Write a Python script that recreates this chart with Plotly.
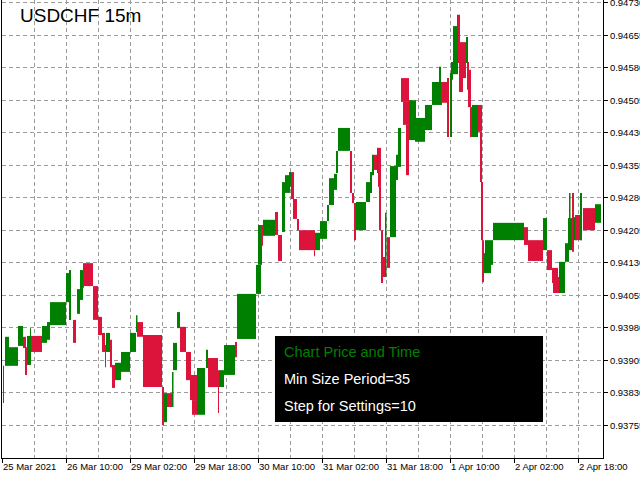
import plotly.graph_objects as go

# ---- data (bar index = 15-minute bars from the first visible bar) ----
box_start = [1, 3, 7, 16, 21, 23, 25, 28, 29, 40, 45, 48, 64, 67, 71, 75, 78, 81, 82, 91,
             96, 100, 103, 104, 108, 110, 113, 119, 128, 134, 135, 141, 160, 162, 165, 170, 171, 175, 178, 184,
             188, 190, 195, 204, 206, 216, 217, 222, 233, 235, 254, 256, 259, 261, 273, 276, 280, 283, 287, 289,
             291, 295, 297, 312, 313, 318, 325, 327, 332, 334, 336, 348, 350, 352, 354, 364, 368, 370, 372, 375,
             376, 377, 379, 381, 383, 385, 388, 394, 396, 399, 401, 404, 407, 413, 423, 430, 437, 439, 445, 448,
             449, 451, 455, 456, 457, 461, 464, 465, 466, 468, 470, 476, 478, 479, 480, 482, 483, 491, 522, 526,
             541, 545, 550, 551, 557, 563, 566, 567, 570, 571, 573, 578, 581, 593]
box_length = [1, 4, 9, 5, 3, 2, 4, 1, 11, 5, 3, 16, 5, 2, 3, 3, 3, 1, 9, 5,
              4, 3, 1, 4, 2, 3, 6, 9, 6, 1.5, 6, 19, 2, 3, 5, 1.5, 4, 3, 6, 5,
              7, 5, 8, 2, 10, 1, 5, 11, 2, 19, 5, 4, 2, 12, 3, 4, 3, 5, 2, 3,
              4, 2, 16, 1, 5, 7, 2, 5, 3, 2, 12, 2, 2, 2, 10, 4, 2, 2, 3, 1,
              3, 2, 2, 2, 1.5, 3, 6, 2, 3, 8, 6, 3, 7, 10, 7, 10, 2, 7, 2, 2,
              2, 5, 1, 2, 4, 3, 2, 2, 3, 3, 6, 4, 2, 2, 2, 7, 8, 31, 4, 15,
              4, 5, 6, 6, 6, 4, 4, 1.5, 2, 4, 7, 2, 12, 6]
box_open = [0.93806, 0.93892, 0.93892, 0.93938, 0.93959, 0.93935, 0.93894, 0.93922, 0.93961, 0.93945,
            0.93952, 0.93986, 0.94039, 0.93998, 0.93998, 0.94012, 0.94044, 0.94129, 0.94129, 0.94076,
            0.94005, 0.93968, 0.93940, 0.93924, 0.93952, 0.93894, 0.93859, 0.93878, 0.93924, 0.93970,
            0.93993, 0.93963, 0.93843, 0.93762, 0.93829, 0.93797, 0.93882, 0.93979, 0.93982, 0.93924,
            0.93871, 0.93813, 0.93779, 0.93887, 0.93910, 0.93882, 0.93843, 0.93871, 0.93947, 0.93954,
            0.94058, 0.94125, 0.94217, 0.94192, 0.94247, 0.94194, 0.94201, 0.94291, 0.94305, 0.94339,
            0.94277, 0.94231, 0.94205, 0.94159, 0.94159, 0.94185, 0.94226, 0.94263, 0.94298, 0.94337,
            0.94388, 0.94388, 0.94291, 0.94268, 0.94205, 0.94270, 0.94291, 0.94332, 0.94379, 0.94337,
            0.94395, 0.94305, 0.94205, 0.94143, 0.94097, 0.94189, 0.94189, 0.94321, 0.94351, 0.94556,
            0.94501, 0.94448, 0.94413, 0.94409, 0.94436, 0.94494, 0.94545, 0.94547, 0.94556, 0.94420,
            0.94552, 0.94565, 0.94674, 0.94702, 0.94639, 0.94639, 0.94591, 0.94593, 0.94575, 0.94489,
            0.94420, 0.94494, 0.94432, 0.94316, 0.94182, 0.94106, 0.94125, 0.94182, 0.94212, 0.94182,
            0.94159, 0.94159, 0.94118, 0.94097, 0.94060, 0.94132, 0.94159, 0.94233, 0.94291, 0.94182,
            0.94240, 0.94182, 0.94256, 0.94222]
box_close = [0.93892, 0.93959, 0.93935, 0.93984, 0.93933, 0.93871, 0.93961, 0.93979, 0.93924, 0.93984,
             0.93993, 0.94039, 0.94106, 0.94113, 0.93945, 0.94069, 0.94113, 0.94072, 0.94076, 0.93998,
             0.93963, 0.93924, 0.93889, 0.93968, 0.93889, 0.93841, 0.93899, 0.93924, 0.93968, 0.94009,
             0.93959, 0.93843, 0.93755, 0.93829, 0.93797, 0.93878, 0.93945, 0.94016, 0.93924, 0.93859,
             0.93813, 0.93779, 0.93887, 0.93929, 0.93843, 0.93783, 0.93882, 0.93940, 0.93912, 0.94058,
             0.94125, 0.94217, 0.94169, 0.94229, 0.94194, 0.94134, 0.94316, 0.94332, 0.94339, 0.94277,
             0.94231, 0.94205, 0.94159, 0.94145, 0.94199, 0.94226, 0.94263, 0.94325, 0.94335, 0.94388,
             0.94441, 0.94291, 0.94268, 0.94182, 0.94270, 0.94316, 0.94339, 0.94379, 0.94344, 0.94395,
             0.94305, 0.94205, 0.94083, 0.94097, 0.94245, 0.94118, 0.94353, 0.94379, 0.94441, 0.94501,
             0.94448, 0.94332, 0.94505, 0.94464, 0.94494, 0.94547, 0.94582, 0.94499, 0.94420, 0.94568,
             0.94593, 0.94676, 0.94702, 0.94591, 0.94524, 0.94556, 0.94651, 0.94529, 0.94489, 0.94420,
             0.94494, 0.94432, 0.94316, 0.94182, 0.94085, 0.94152, 0.94182, 0.94222, 0.94171, 0.94134,
             0.94233, 0.94113, 0.94083, 0.94060, 0.94132, 0.94175, 0.94233, 0.94291, 0.94155, 0.94235,
             0.94182, 0.94291, 0.94205, 0.94265]

price_ticks = [0.93755, 0.93830, 0.93905, 0.93980, 0.94055, 0.94130, 0.94205,
               0.94280, 0.94355, 0.94430, 0.94505, 0.94580, 0.94655, 0.94730]
price_tick_text = ["0.93755", "0.93830", "0.93905", "0.93980", "0.94055", "0.94130", "0.94205",
                   "0.94280", "0.94355", "0.94430", "0.94505", "0.94580", "0.94655", "0.94730"]
time_tick_pos = [0, 64, 128, 192, 256, 320, 384, 448, 512, 576]
time_tick_text = ["25 Mar 2021", "26 Mar 10:00", "29 Mar 02:00", "29 Mar 18:00", "30 Mar 10:00",
                  "31 Mar 02:00", "31 Mar 18:00", "1 Apr 10:00", "2 Apr 02:00", "2 Apr 18:00"]
symbol_title = "USDCHF 15m"
info_lines = ["Chart Price and Time", "Min Size Period=35", "Step for Settings=10"]

UP = "#008000"
DOWN = "#DC143C"
GRID = "#9c9c9c"
FONT = "Liberation Sans, Arial, sans-serif"

centers = [s + w / 2 for s, w in zip(box_start, box_length)]
bases = [min(o, c) for o, c in zip(box_open, box_close)]
heights = [abs(c - o) for o, c in zip(box_open, box_close)]
colors = [UP if c >= o else DOWN for o, c in zip(box_open, box_close)]

fig = go.Figure(go.Bar(
    x=centers, y=heights, base=bases, width=box_length,
    marker=dict(color=colors, line=dict(width=0)),
    hoverinfo="skip", showlegend=False,
))

fig.update_layout(
    width=640, height=480, autosize=False,
    margin=dict(l=2, r=37, t=0, b=22, pad=0),
    plot_bgcolor="white", paper_bgcolor="white",
    font=dict(family=FONT, size=10, color="black"),
    xaxis=dict(
        range=[0, 601], tickmode="array", tickvals=time_tick_pos, ticktext=time_tick_text,
        ticks="outside", ticklen=4, tickcolor="black", ticklabelposition="outside right",
        ticklabeloverflow="allow", tickangle=0, automargin=False,
        tickfont=dict(size=9.5),
        showgrid=True, gridcolor=GRID, griddash="4px,3px", gridwidth=1,
        minor=dict(dtick=32, tick0=0, showgrid=True, gridcolor=GRID, griddash="4px,3px", ticks=""),
        showline=True, linecolor="black", linewidth=1, zeroline=False, fixedrange=True,
    ),
    yaxis=dict(
        range=[0.936793, 0.947362], side="right", tickmode="array", tickvals=price_ticks,
        ticktext=price_tick_text, ticks="outside", ticklen=4, tickcolor="black",
        ticklabeloverflow="allow", automargin=False,
        tickfont=dict(size=9.5),
        showgrid=True, gridcolor=GRID, griddash="4px,3px", gridwidth=1,
        showline=True, mirror=True, linecolor="black", linewidth=1, zeroline=False,
    ),
    shapes=[dict(type="rect", xref="paper", yref="paper", x0=0.4542, x1=0.9002, y0=0.0786, y1=0.2664,
                 fillcolor="black", line=dict(width=0), layer="above")],
    annotations=[
        dict(text=symbol_title, xref="paper", yref="paper", x=0.0266, y=0.966, xanchor="left",
             yanchor="middle", showarrow=False, font=dict(size=19, color="black", family=FONT)),
        dict(text=info_lines[0], xref="paper", yref="paper", x=0.4659, y=0.2314, xanchor="left",
             yanchor="middle", showarrow=False, font=dict(size=14.5, color=UP, family=FONT)),
        dict(text=info_lines[1], xref="paper", yref="paper", x=0.4659, y=0.1725, xanchor="left",
             yanchor="middle", showarrow=False, font=dict(size=14.5, color="white", family=FONT)),
        dict(text=info_lines[2], xref="paper", yref="paper", x=0.4659, y=0.1135, xanchor="left",
             yanchor="middle", showarrow=False, font=dict(size=14.5, color="white", family=FONT)),
    ],
)

fig.write_html("out.html", config={"displayModeBar": False, "staticPlot": True},
               post_script="document.body.style.margin='0';document.body.style.overflow='hidden';")
